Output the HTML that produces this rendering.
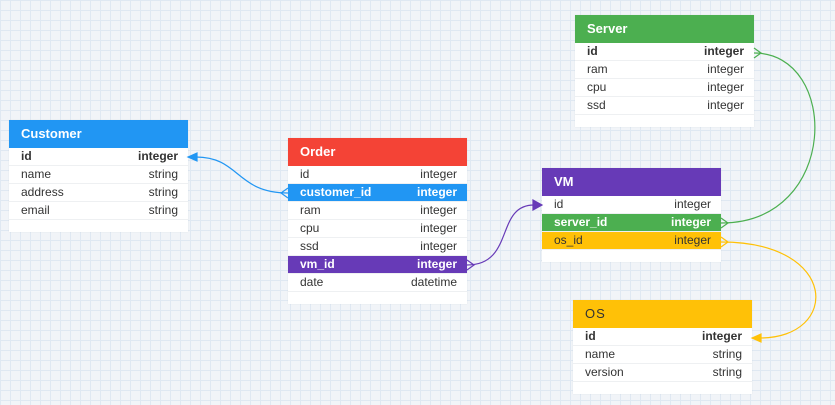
<!DOCTYPE html>
<html><head><meta charset="utf-8"><style>
body{margin:0;width:835px;height:405px;overflow:hidden;font-family:"Liberation Sans",Arial,sans-serif;
background-color:#f1f4f8;
background-image:linear-gradient(#dfe8f2 1px,transparent 1px),linear-gradient(90deg,#dfe8f2 1px,transparent 1px);
background-size:10px 10px;position:relative}
.t{position:absolute;width:179px;background:#fff;box-shadow:0 0 1px rgba(0,0,0,.1)}
.h{height:28px;line-height:28px;color:#fff;font-weight:bold;font-size:13px;padding-left:12px}
.r{height:17px;line-height:17px;font-size:12px;color:#333;padding:0 10px 0 12px;display:flex;justify-content:space-between;border-bottom:1px solid #eef0f2}
.b{font-weight:bold}
.e{height:12px}
svg{position:absolute;left:0;top:0}
</style></head><body>
<div class="t" style="left:9px;top:120px">
<div class="h" style="background:#2196f3">Customer</div>
<div class="r b"><span>id</span><span>integer</span></div>
<div class="r"><span>name</span><span>string</span></div>
<div class="r"><span>address</span><span>string</span></div>
<div class="r"><span>email</span><span>string</span></div>
<div class="e"></div></div>

<div class="t" style="left:288px;top:138px">
<div class="h" style="background:#f44336">Order</div>
<div class="r"><span>id</span><span>integer</span></div>
<div class="r b" style="background:#2196f3;color:#fff"><span>customer_id</span><span>integer</span></div>
<div class="r"><span>ram</span><span>integer</span></div>
<div class="r"><span>cpu</span><span>integer</span></div>
<div class="r"><span>ssd</span><span>integer</span></div>
<div class="r b" style="background:#673ab7;color:#fff"><span>vm_id</span><span>integer</span></div>
<div class="r"><span>date</span><span>datetime</span></div>
<div class="e"></div></div>

<div class="t" style="left:542px;top:168px">
<div class="h" style="background:#673ab7">VM</div>
<div class="r"><span>id</span><span>integer</span></div>
<div class="r b" style="background:#4caf50;color:#fff"><span>server_id</span><span>integer</span></div>
<div class="r" style="background:#ffc107"><span>os_id</span><span>integer</span></div>
<div class="e"></div></div>

<div class="t" style="left:575px;top:15px">
<div class="h" style="background:#4caf50">Server</div>
<div class="r b"><span>id</span><span>integer</span></div>
<div class="r"><span>ram</span><span>integer</span></div>
<div class="r"><span>cpu</span><span>integer</span></div>
<div class="r"><span>ssd</span><span>integer</span></div>
<div class="e"></div></div>

<div class="t" style="left:573px;top:300px">
<div class="h" style="background:#ffc107;color:#333;font-weight:normal;letter-spacing:1px">OS</div>
<div class="r b"><span>id</span><span>integer</span></div>
<div class="r"><span>name</span><span>string</span></div>
<div class="r"><span>version</span><span>string</span></div>
<div class="e"></div></div>

<svg width="835" height="405" fill="none" stroke-width="1.2">
<path d="M288,193 C236,193 240,157 196,157" stroke="#2196f3"/>
<path d="M188,157 L197,153 L197,161Z" fill="#2196f3" stroke="#2196f3"/>
<path d="M288,188 L281,193 L288,198" stroke="#2196f3"/>
<path d="M467,265 C515,265 495,205 534,205" stroke="#673ab7"/>
<path d="M542,205 L533,200 L533,210Z" fill="#673ab7" stroke="#673ab7"/>
<path d="M467,260 L474,265 L467,270" stroke="#673ab7"/>
<path d="M721,223 C840,223 840,53 754,53" stroke="#4caf50"/>
<path d="M721,218 L728,223 L721,228" stroke="#4caf50"/>
<path d="M754,48 L761,53 L754,58" stroke="#4caf50"/>
<path d="M721,242 C840,242 840,338 760,338" stroke="#ffc107"/>
<path d="M721,237 L728,242 L721,247" stroke="#ffc107"/>
<path d="M752,338 L761,334 L761,342Z" fill="#ffc107" stroke="#ffc107"/>
</svg>
</body></html>
